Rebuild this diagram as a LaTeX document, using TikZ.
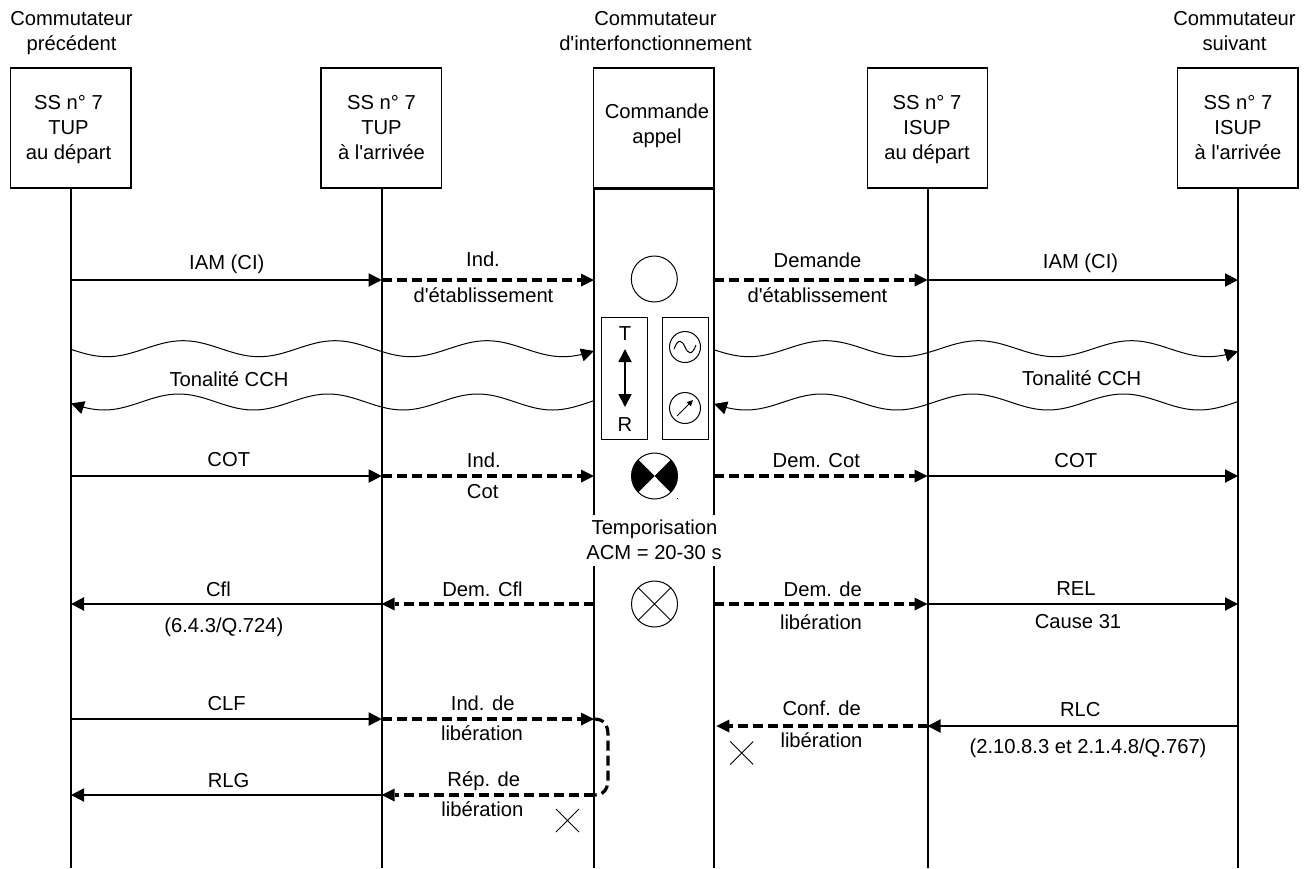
\documentclass[tikz,border=0pt]{standalone}
\usepackage{fontspec}
\setmainfont{Liberation Sans}
\newfontfamily\lsans{Liberation Sans}
\usetikzlibrary{arrows.meta,calc}
\tikzset{
  unit/.style={x=0.5pt,y=-0.5pt},
  lbl/.style={inner sep=0pt,anchor=base,align=center,font=\lsans\fontsize{10.1}{12.5}\selectfont},
  boxn/.style={draw=black,line width=0.6pt,minimum width=60.25pt,minimum height=60pt,inner sep=0pt},
  life/.style={line width=1pt},
  lifet/.style={line width=0.65pt},
  arr/.style={-{Triangle[length=6.5pt,width=6.5pt]}},
  rarr/.style={{Triangle[length=6.5pt,width=6.5pt]}-},
  msg/.style={line width=1pt,arr},
  dmsg/.style={line width=1.6pt,dash pattern=on 5pt off 2.5pt,-{Triangle[length=6.5pt,width=6.5pt,line width=0pt]}},
  dline/.style={line width=1.6pt,dash pattern=on 5pt off 2.5pt},
  wave/.style={line width=0.5pt,domain=#1,samples=140,smooth},
  symb/.style={draw,circle,line width=0.5pt,inner sep=0pt},
  rectb/.style={draw,line width=0.5pt,minimum width=23pt,minimum height=61pt,inner sep=0pt},
}
\begin{document}
\begin{tikzpicture}[unit]
\useasboundingbox (0,0) rectangle (1310,868);
% coordinates on the lifelines
\foreach \nm/\px in {A/71,B/381.7,C/594,D/714,E/927.5,F/1238}
  \foreach \py in {280,476,604,719,726,795,868,515,566,188}
    \coordinate (\nm\py) at (\px,\py);
% head labels
\node[lbl] (h1) at (71.5,50) {Commutateur\\précédent};
\node[lbl] (h3) at (655.5,50) {Commutateur\\d'interfonctionnement};
\node[lbl] (h5) at (1234.5,50) {Commutateur\\suivant};
% boxes
\node[boxn] (b1) at (70.8,128) {};
\node[boxn] (b2) at (381.3,128) {};
\node[boxn] (b3) at (653.8,128) {};
\node[boxn] (b4) at (927.5,128) {};
\node[boxn] (b5) at (1237.8,128) {};
\node[lbl] (t1) at (68.5,159) {SS n° 7\\TUP\\au départ};
\node[lbl] (t2) at (381.5,159) {SS n° 7\\TUP\\à l'arrivée};
\node[lbl] (t3) at (657,143) {Commande\\appel};
\node[lbl] (t4) at (927,159) {SS n° 7\\ISUP\\au départ};
\node[lbl] (t5) at (1238,159) {SS n° 7\\ISUP\\à l'arrivée};
\draw[life] (b3.south west) -- (b3.south east);
% lifelines
\draw[life] (A188) -- (A868);
\draw[life] (B188) -- (B868);
\draw[lifet] (C188) -- (C515);
\draw[lifet] (C566) -- (C868);
\draw[lifet] (D188) -- (D515);
\draw[lifet] (D566) -- (D868);
\draw[life] (E188) -- (E868);
\draw[life] (F188) -- (F868);
% messages, row 1
\draw[msg] (A280) -- (B280);
\draw[dmsg] (B280) -- (C280);
\draw[dmsg] (D280) -- (E280);
\draw[msg] (E280) -- (F280);
% waves
\draw[wave=71:594,arr] plot (\x,{348.7+8*cos(360/152*(\x-107))});
\draw[wave=714:1238,arr] plot (\x,{348.7+8*cos(360/153*(\x-749))});
\draw[wave=71:594,rarr] plot (\x,{402+8*cos(360/149.5*(\x-104))});
\draw[wave=714:1238,rarr] plot (\x,{402+8*cos(360/151*(\x-746))});
% row COT
\draw[msg] (A476) -- (B476);
\draw[dmsg] (B476) -- (C476);
\draw[dmsg] (D476) -- (E476);
\draw[msg] (E476) -- (F476);
% row Cfl / REL
\draw[msg] (B604) -- (A604);
\draw[dmsg] (C604) -- (B604);
\draw[dmsg] (D604) -- (E604);
\draw[msg] (E604) -- (F604);
% CLF and RLG
\draw[msg] (A719) -- (B719);
\draw[dmsg] (B719) -- (C719);
\draw[dline] (C719) .. controls +(10,0) and +(0,-10) .. ++(14,16) -- ++(0,44) .. controls +(0,10) and +(10,0) .. (C795);
\draw[dmsg] (C795) -- (B795);
\draw[msg] (B795) -- (A795);
% RLC
\draw[msg] (F726) -- (E726);
\draw[dmsg] (E726) -- ([xshift=1.2pt]D726);
% central symbols
\node[symb,minimum size=23pt] (s1) at (654.3,279) {};
\node[rectb] (r1) at (624,378) {};
\node[rectb] (r2) at (685,378) {};
\node[lbl] (tT) at (625,340.7) {T};
\node[lbl] (tR) at (625,431.7) {R};
\coordinate (ta) at (625,349);
\coordinate (tb) at (625,407);
\draw[line width=0.9pt,{Triangle[length=6.5pt,width=6.5pt]}-{Triangle[length=6.5pt,width=6.5pt]}] (ta) -- (tb);
\node[symb,minimum size=15.5pt] (s2) at (685,347) {};
\draw[line width=0.5pt] (674,349) .. controls (678,338) and (682,340) .. (685,347) .. controls (688,354) and (692,356) .. (696,345);
\node[symb,minimum size=15.5pt] (s3) at (685,408) {};
\draw[line width=0.4pt,-{Triangle[length=3pt,width=2.8pt]}] (677,416) -- (693,400);
\fill (654.5,476) -- (670.76,459.74) arc[start angle=45,end angle=-45,radius=11.5pt] -- cycle;
\fill (654.5,476) -- (638.24,459.74) arc[start angle=135,end angle=225,radius=11.5pt] -- cycle;
\node[symb,minimum size=23pt] (s4) at (654.5,476) {};
\fill (676.5,498) rectangle (677.5,499);
\node[symb,minimum size=23pt] (s5) at (654.5,604) {};
\draw[line width=0.45pt] (s5.north west) -- (s5.south east);
\draw[line width=0.45pt] (s5.north east) -- (s5.south west);
% crosses
\draw[line width=0.4pt] (556,809) -- (579,832) (556,832) -- (579,809);
\draw[line width=0.4pt] (730.2,741.5) -- (753.2,764.5) (730.2,764.5) -- (753.2,741.5);
% labels (centre x, baseline y)
\node[lbl] (l1) at (226.8,269.3) {IAM (CI)};
\node[lbl] (l2) at (483,266.7) {Ind.};
\node[lbl] (l3) at (483.5,302.7) {d'établissement};
\node[lbl] (l4) at (817.5,267.7) {Demande};
\node[lbl] (l5) at (817.5,302.7) {d'établissement};
\node[lbl] (l6) at (1080.5,268) {IAM (CI)};
\node[lbl] (l7) at (229,386.7) {Tonalité CCH};
\node[lbl] (l8) at (1081.7,385) {Tonalité CCH};
\node[lbl] (l9) at (228.8,466.7) {COT};
\node[lbl] (l10) at (483.8,467.7) {Ind.};
\node[lbl] (l11) at (482.7,498.3) {Cot};
\node[lbl] (l12) at (816.3,467.3) {Dem. Cot};
\node[lbl] (l13) at (1075.8,467.3) {COT};
\node[lbl] (l14) at (654.5,534.3) {Temporisation};
\node[lbl] (l15) at (654,559) {ACM = 20-30 s};
\node[lbl] (l16) at (218.4,596) {Cfl};
\node[lbl] (l17) at (223.9,632.3) {(6.4.3/Q.724)};
\node[lbl] (l18) at (482.5,596) {Dem. Cfl};
\node[lbl] (l19) at (822.8,596) {Dem. de};
\node[lbl] (l20) at (821,629) {libération};
\node[lbl] (l21) at (1076,595) {REL};
\node[lbl] (l22) at (1078,628) {Cause 31};
\node[lbl] (l23) at (226.7,710.7) {CLF};
\node[lbl] (l24) at (482.7,710) {Ind. de};
\node[lbl] (l25) at (482,740) {libération};
\node[lbl] (l26) at (228.6,787.3) {RLG};
\node[lbl] (l27) at (483.8,786) {Rép. de};
\node[lbl] (l28) at (482.3,816.7) {libération};
\node[lbl] (l29) at (821.7,715.7) {Conf. de};
\node[lbl] (l30) at (821.5,747.7) {libération};
\node[lbl] (l31) at (1080.3,716) {RLC};
\node[lbl] (l32) at (1088,753) {(2.10.8.3 et 2.1.4.8/Q.767)};
\end{tikzpicture}
\end{document}
